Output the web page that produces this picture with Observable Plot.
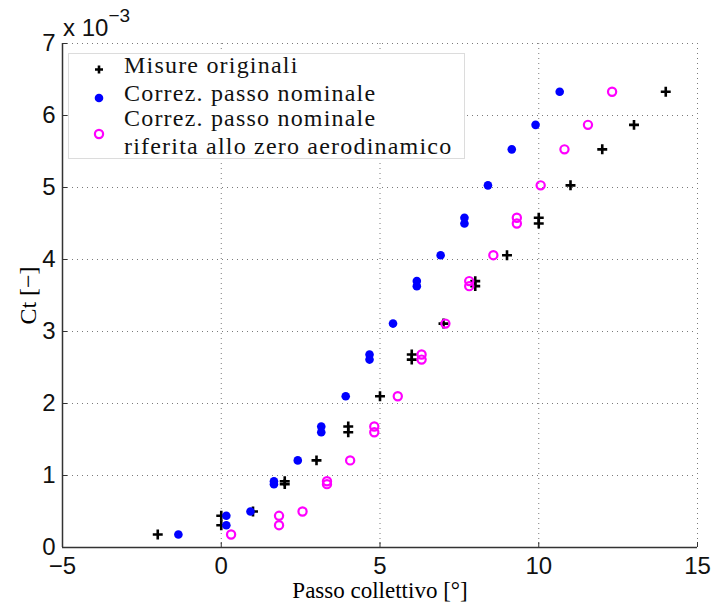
<!DOCTYPE html>
<html>
<head>
<meta charset="utf-8">
<script src="https://cdn.jsdelivr.net/npm/d3@7"></script>
<script src="https://cdn.jsdelivr.net/npm/@observablehq/plot@0.6"></script>
<style>
  html, body { margin: 0; padding: 0; background: #fff; }
  #wrap { position: relative; width: 712px; height: 603px; }
  #legend {
    position: absolute; left: 68px; top: 53px; width: 397px; height: 106px;
    border: 1px solid #dcdcdc; background: #fff; box-sizing: border-box;
    font-family: "Liberation Serif", "DejaVu Serif", serif; font-size: 24px; color: #111;
  }
  #legend .t { position: absolute; left: 55px; white-space: nowrap; letter-spacing: 1.2px; }
  #legend svg { position: absolute; left: 0; top: 0; }
</style>
</head>
<body>
<div id="wrap"></div>
<script>
// Passo collettivo [°] and Ct (in units of 1e-3)
const seriesNames = ["Misure originali", "Correz. passo nominale", "Correz. passo nominale riferita allo zero aerodinamico"];

const origX = [-2, 0, 0, 1, 2, 2, 3, 4, 4, 5, 6, 6, 7, 8, 8, 9, 10, 10, 11, 12, 13, 14];
const origY = [0.18, 0.31, 0.44, 0.50, 0.88, 0.92, 1.21, 1.60, 1.68, 2.10, 2.61, 2.68, 3.11, 3.63, 3.70, 4.06, 4.50, 4.58, 5.03, 5.53, 5.87, 6.33];

const nomX = [-1.35, 0.16, 0.16, 0.92, 1.66, 1.66, 2.41, 3.15, 3.15, 3.92, 4.67, 4.67, 5.41, 6.16, 6.16, 6.91, 7.66, 7.66, 8.40, 9.15, 9.90, 10.66];
const nomY = [0.18, 0.31, 0.44, 0.50, 0.88, 0.92, 1.21, 1.60, 1.68, 2.10, 2.61, 2.68, 3.11, 3.63, 3.70, 4.06, 4.50, 4.58, 5.03, 5.53, 5.87, 6.33];

const aeroX = [0.31, 1.82, 1.82, 2.56, 3.33, 3.33, 4.06, 4.82, 4.82, 5.56, 6.31, 6.31, 7.06, 7.81, 7.81, 8.57, 9.31, 9.31, 10.06, 10.81, 11.55, 12.31];
const aeroY = [0.18, 0.31, 0.44, 0.50, 0.88, 0.92, 1.21, 1.60, 1.68, 2.10, 2.61, 2.68, 3.11, 3.63, 3.70, 4.06, 4.50, 4.58, 5.03, 5.53, 5.87, 6.33];

const xTicks = [-5, 0, 5, 10, 15];
const yTicks = [0, 1, 2, 3, 4, 5, 6, 7];

const toRows = (xs, ys) => xs.map((x, i) => ({x, y: ys[i]}));
const orig = toRows(origX, origY);
const nom = toRows(nomX, nomY);
const aero = toRows(aeroX, aeroY);

const sans = "'Liberation Sans', Arial, Helvetica, sans-serif";
const serif = "'Liberation Serif', 'DejaVu Serif', serif";
const grid = {stroke: "#7a7a7a", strokeOpacity: 1, strokeDasharray: "1,4", strokeWidth: 1};

const chart = Plot.plot({
  width: 712,
  height: 603,
  marginLeft: 62,
  marginRight: 15,
  marginTop: 43,
  marginBottom: 56,
  style: {background: "#fff", overflow: "visible"},
  x: {domain: [-5, 15]},
  y: {domain: [0, 7]},
  marks: [
    Plot.gridX(xTicks, grid),
    Plot.gridY(yTicks, grid),
    Plot.axisX(xTicks, {tickSize: -5, tickPadding: 14, fontSize: 24, fontFamily: sans, fill: "#111", stroke: "#333",
      tickFormat: d => d < 0 ? "\u2212" + Math.abs(d) : String(d), label: null}),
    Plot.axisY(yTicks, {tickSize: -5, tickPadding: 12, fontSize: 24, fontFamily: sans, fill: "#111", stroke: "#333",
      tickFormat: d => String(d), dy: 0, label: null}),
    Plot.axisX({anchor: "bottom", ticks: [], label: "Passo collettivo [°]", labelAnchor: "center", labelArrow: "none",
      labelOffset: 50, fontSize: 23, fontFamily: serif, style: {letterSpacing: "2.2px"}}),
    Plot.axisY({anchor: "left", ticks: [], label: "Ct [−]", labelAnchor: "center", labelArrow: "none",
      labelOffset: 44, fontSize: 24, fontFamily: serif, style: {letterSpacing: "1.5px"}}),
    Plot.ruleY([0], {stroke: "#333", strokeWidth: 1.5}),
    Plot.ruleX([-5], {stroke: "#333", strokeWidth: 1.5}),
    Plot.dot(orig, {x: "x", y: "y", symbol: "plus", stroke: "#000", strokeWidth: 2.6, r: 3.3}),
    Plot.dot(nom, {x: "x", y: "y", symbol: "circle", fill: "#0000ff", r: 4.3}),
    Plot.dot(aero, {x: "x", y: "y", symbol: "circle", fill: "none", stroke: "#ff00ff", strokeWidth: 2.2, r: 4.1})
  ]
});

const wrap = document.getElementById("wrap");
wrap.appendChild(chart);

// exponent label
const svg = d3.select(chart);
const expo = svg.append("text")
  .attr("x", 63).attr("y", 36)
  .attr("text-anchor", "start")
  .attr("font-family", sans).attr("font-size", 24).attr("fill", "#111");
expo.append("tspan").text("x 10");
expo.append("tspan").attr("dy", -14).attr("font-size", 19).text("\u22123");

// legend
const lg = document.createElement("div");
lg.id = "legend";
lg.innerHTML = `
  <svg width="60" height="106">
    <path d="M30,11.5 v8 M26,15.5 h8" stroke="#000" stroke-width="2.6"/>
    <circle cx="30" cy="44" r="4.3" fill="#0000ff"/>
    <circle cx="30" cy="80" r="4.1" fill="none" stroke="#ff00ff" stroke-width="2.2"/>
  </svg>
  <div class="t" style="top:-2px">${seriesNames[0]}</div>
  <div class="t" style="top:26px">${seriesNames[1]}</div>
  <div class="t" style="top:51px">Correz. passo nominale</div>
  <div class="t" style="top:79px">riferita allo zero aerodinamico</div>
`;
wrap.appendChild(lg);
</script>
</body>
</html>
